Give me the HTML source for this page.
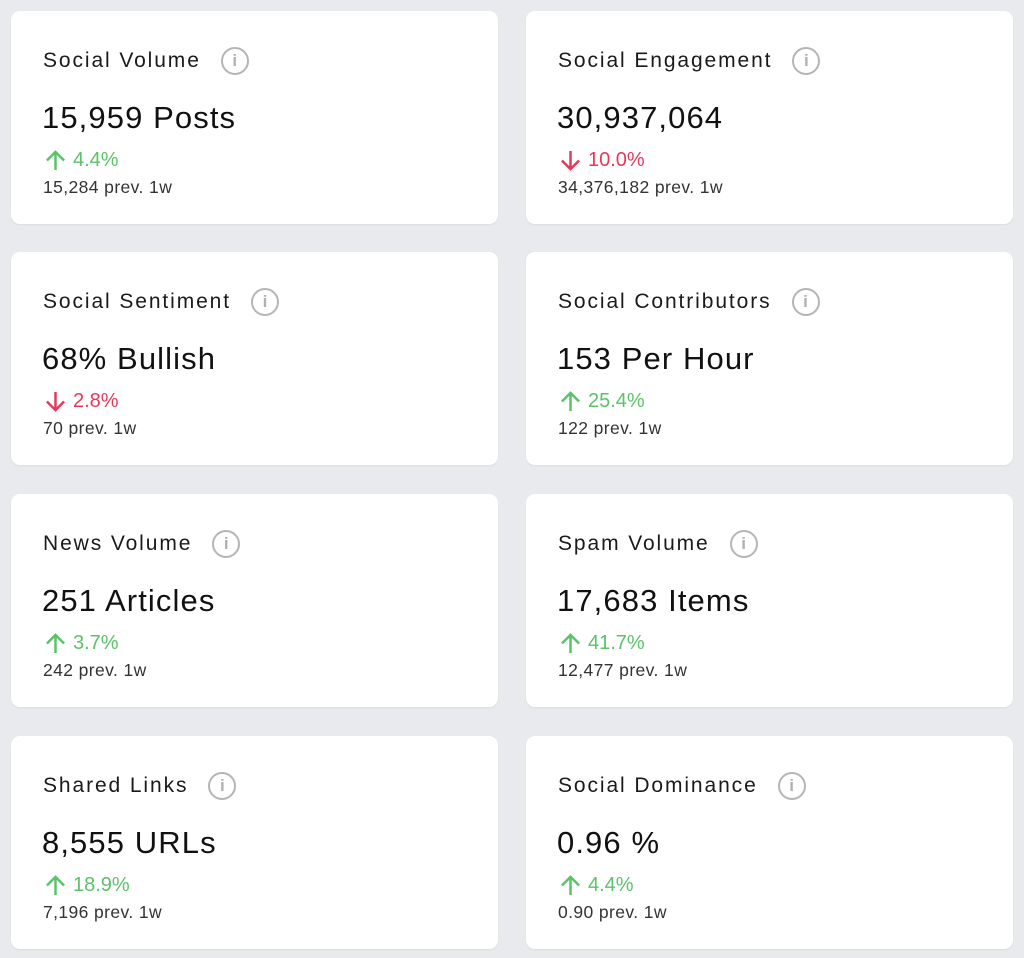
<!DOCTYPE html>
<html><head><meta charset="utf-8"><style>
body{margin:0;width:1024px;height:958px;background:#e9eaed;font-family:"Liberation Sans",sans-serif;position:relative;overflow:hidden}
.c{position:absolute;width:487px;height:213px;background:#fff;border-radius:9px;box-shadow:0 1px 2px rgba(0,0,0,.06)}
.t{position:absolute;left:32px;top:35px;height:30px;font-size:21px;letter-spacing:1.9px;color:#1a1a1a;white-space:nowrap;display:flex;align-items:center}
.i{display:inline-block;width:24px;height:24px;border:2.5px solid #b5b5b5;border-radius:50%;color:#b0b0b0;font-size:17px;font-weight:bold;text-align:center;line-height:24px;margin-left:20px;letter-spacing:0}
.v{position:absolute;left:31px;top:89px;font-size:31px;letter-spacing:1.1px;color:#111}
.ch{position:absolute;left:34px;top:138px;font-size:20px;display:flex;align-items:center}
.ch svg{margin-right:7px}
.up{color:#5cc26a}.dn{color:#e6395a}
.p{position:absolute;left:32px;top:166px;font-size:17.5px;letter-spacing:0.4px;color:#333}
</style></head><body>
<svg width="0" height="0" style="position:absolute"><defs>
<symbol id="u" viewBox="0 0 22 22"><path d="M11 21V2M2 11L11 2L20 11" fill="none" stroke="currentColor" stroke-width="2.6"/></symbol>
<symbol id="d" viewBox="0 0 22 22"><path d="M11 1V20M2 11L11 20L20 11" fill="none" stroke="currentColor" stroke-width="2.6"/></symbol>
</defs></svg>
<div class="c" style="left:11px;top:11px"><div class="t">Social Volume<span class="i">i</span></div><div class="v">15,959 Posts</div><div class="ch up"><svg width="21" height="21"><use href="#u"/></svg>4.4%</div><div class="p">15,284 prev. 1w</div></div>
<div class="c" style="left:526px;top:11px"><div class="t">Social Engagement<span class="i">i</span></div><div class="v">30,937,064</div><div class="ch dn"><svg width="21" height="21"><use href="#d"/></svg>10.0%</div><div class="p">34,376,182 prev. 1w</div></div>
<div class="c" style="left:11px;top:252px"><div class="t">Social Sentiment<span class="i">i</span></div><div class="v">68% Bullish</div><div class="ch dn"><svg width="21" height="21"><use href="#d"/></svg>2.8%</div><div class="p">70 prev. 1w</div></div>
<div class="c" style="left:526px;top:252px"><div class="t">Social Contributors<span class="i">i</span></div><div class="v">153 Per Hour</div><div class="ch up"><svg width="21" height="21"><use href="#u"/></svg>25.4%</div><div class="p">122 prev. 1w</div></div>
<div class="c" style="left:11px;top:494px"><div class="t">News Volume<span class="i">i</span></div><div class="v">251 Articles</div><div class="ch up"><svg width="21" height="21"><use href="#u"/></svg>3.7%</div><div class="p">242 prev. 1w</div></div>
<div class="c" style="left:526px;top:494px"><div class="t">Spam Volume<span class="i">i</span></div><div class="v">17,683 Items</div><div class="ch up"><svg width="21" height="21"><use href="#u"/></svg>41.7%</div><div class="p">12,477 prev. 1w</div></div>
<div class="c" style="left:11px;top:736px"><div class="t">Shared Links<span class="i">i</span></div><div class="v">8,555 URLs</div><div class="ch up"><svg width="21" height="21"><use href="#u"/></svg>18.9%</div><div class="p">7,196 prev. 1w</div></div>
<div class="c" style="left:526px;top:736px"><div class="t">Social Dominance<span class="i">i</span></div><div class="v">0.96 %</div><div class="ch up"><svg width="21" height="21"><use href="#u"/></svg>4.4%</div><div class="p">0.90 prev. 1w</div></div>
</body></html>
